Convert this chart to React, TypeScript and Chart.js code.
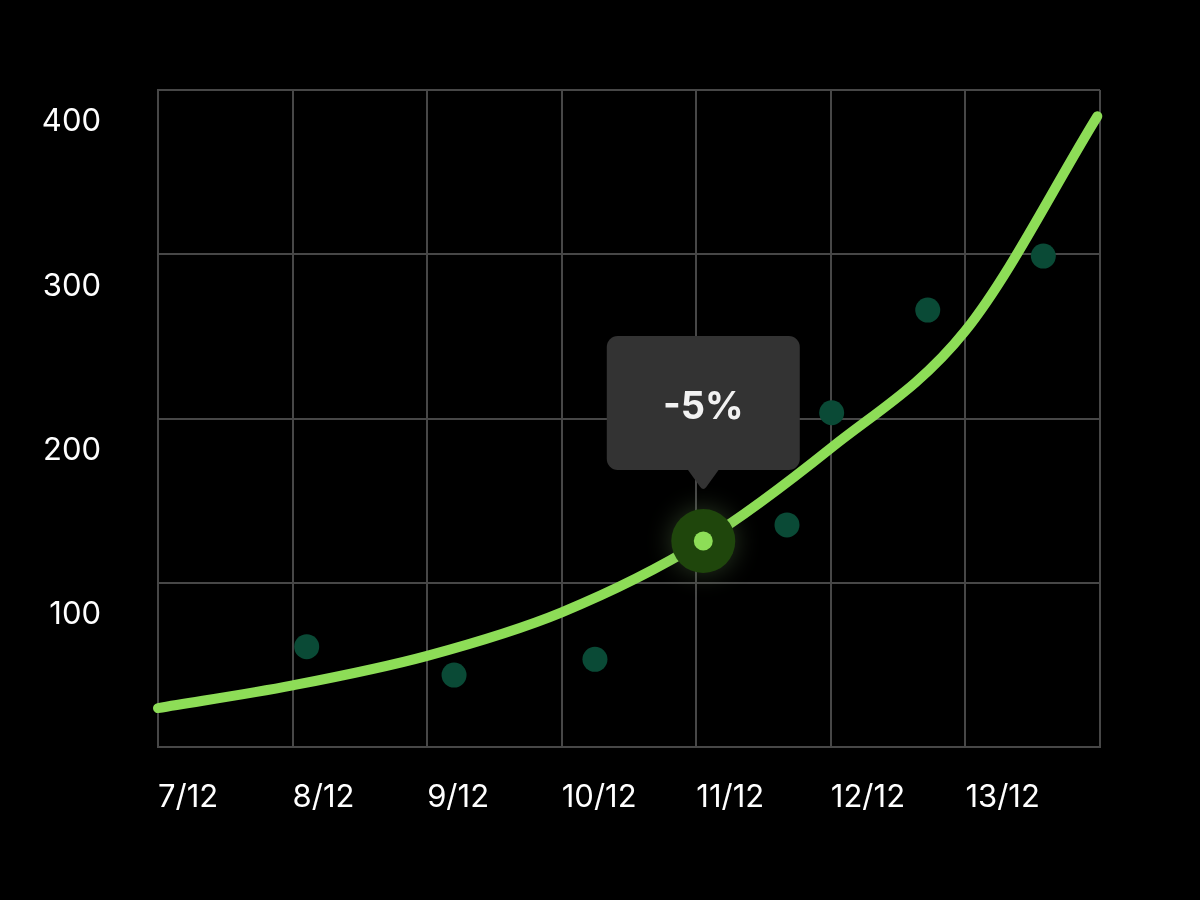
import { useEffect, useRef } from 'react';
import { Chart, registerables } from 'chart.js';

Chart.register(...registerables);

// Day labels along the bottom axis (one per vertical grid line, the last line has none)
const dateLabels = ['7/12', '8/12', '9/12', '10/12', '11/12', '12/12', '13/12'];

// Trend curve samples
const trendX = [0, 1, 2, 3, 4.052, 5, 6, 6.98];
const trendY = [23.7, 37.5, 55.5, 82, 125.4, 182, 253.5, 384];

// Individual observations
const obsX = [1.105, 2.2, 3.247, 4.674, 5.006, 5.72, 6.579];
const obsY = [61.1, 43.8, 53.4, 135.2, 203.5, 266, 298.9];

// Selected point on the curve and its callout
const selectedX = [4.052];
const selectedY = [125.4];
const calloutText = '-5%';

const GRID = '#474747';
const LINE_GREEN = '#8ddd57';
const DOT_GREEN = '#0a4a36';
const HALO_GREEN = '#1f460c';

const haloGlow = {
  id: 'haloGlow',
  beforeDatasetDraw(chart: any, args: any) {
    if (chart.data.datasets[args.index].label === 'halo') {
      const ctx = chart.ctx;
      ctx.save();
      ctx.shadowColor = 'rgba(120, 160, 100, 0.35)';
      ctx.shadowBlur = 26;
    }
  },
  afterDatasetDraw(chart: any, args: any) {
    if (chart.data.datasets[args.index].label === 'halo') {
      chart.ctx.restore();
    }
  },
};

const callout = {
  id: 'callout',
  afterDraw(chart: any) {
    const idx = chart.data.datasets.findIndex((d: any) => d.label === 'selected');
    const el = chart.getDatasetMeta(idx).data[0];
    if (!el) return;
    const { x, y } = el;
    const ctx = chart.ctx;
    const w = 193;
    const h = 134;
    const bottom = y - 71;
    const top = bottom - h;
    ctx.save();
    ctx.fillStyle = '#333333';
    ctx.beginPath();
    ctx.roundRect(x - w / 2, top, w, h, 11);
    ctx.fill();
    // caret pointing down at the selected point
    ctx.beginPath();
    ctx.moveTo(x - 16, bottom - 1);
    ctx.lineTo(x - 3, bottom + 17);
    ctx.quadraticCurveTo(x, bottom + 21, x + 3, bottom + 17);
    ctx.lineTo(x + 16, bottom - 1);
    ctx.closePath();
    ctx.fill();
    ctx.fillStyle = '#f2f2f2';
    ctx.font = 'bold 38px Inter, "Noto Sans", sans-serif';
    ctx.textAlign = 'center';
    ctx.textBaseline = 'middle';
    ctx.fillText(calloutText, x, top + h / 2 + 5);
    ctx.restore();
  },
};

const background = {
  id: 'background',
  beforeDraw(chart: any) {
    const ctx = chart.ctx;
    ctx.save();
    ctx.fillStyle = '#000000';
    ctx.fillRect(0, 0, chart.width, chart.height);
    ctx.restore();
  },
};

export default function App() {
  const canvasRef = useRef<HTMLCanvasElement | null>(null);

  useEffect(() => {
    document.body.style.margin = '0';
    document.body.style.background = '#000';
    const canvas = canvasRef.current;
    if (!canvas) return;

    const tickFont = { family: 'Inter, "Noto Sans", sans-serif', size: 31, weight: 'normal' as const };

    const chart = new Chart(canvas, {
      type: 'scatter',
      data: {
        datasets: [
          {
            label: 'selected',
            data: selectedX.map((x, i) => ({ x, y: selectedY[i] })),
            pointRadius: 9.5,
            pointHoverRadius: 9.5,
            pointBackgroundColor: LINE_GREEN,
            pointBorderWidth: 0,
            order: 0,
          },
          {
            label: 'halo',
            data: selectedX.map((x, i) => ({ x, y: selectedY[i] })),
            pointRadius: 32,
            pointHoverRadius: 32,
            pointBackgroundColor: HALO_GREEN,
            pointBorderWidth: 0,
            order: 1,
          },
          {
            label: 'trend',
            type: 'line',
            data: trendX.map((x, i) => ({ x, y: trendY[i] })),
            borderColor: LINE_GREEN,
            borderWidth: 10,
            borderCapStyle: 'round',
            borderJoinStyle: 'round',
            cubicInterpolationMode: 'monotone',
            pointRadius: 0,
            showLine: true,
            fill: false,
            clip: false,
            order: 2,
          } as any,
          {
            label: 'observations',
            data: obsX.map((x, i) => ({ x, y: obsY[i] })),
            pointRadius: 12.5,
            pointHoverRadius: 12.5,
            pointBackgroundColor: DOT_GREEN,
            pointBorderWidth: 0,
            order: 3,
          },
        ],
      },
      options: {
        responsive: false,
        animation: false,
        devicePixelRatio: 1,
        events: [],
        layout: { padding: { top: 90, right: 100, left: 0, bottom: 0 } },
        plugins: {
          legend: { display: false },
          tooltip: { enabled: false },
        },
        scales: {
          x: {
            type: 'linear',
            min: 0,
            max: 7,
            afterFit: (s: any) => {
              s.height = 153;
            },
            grid: { color: GRID, lineWidth: 2, drawTicks: false },
            border: { color: GRID, width: 2 },
            ticks: {
              stepSize: 1,
              autoSkip: false,
              maxRotation: 0,
              align: 'start',
              padding: 32,
              color: '#ffffff',
              font: tickFont,
              callback: (v: any) => dateLabels[Number(v)] ?? '',
            },
          },
          y: {
            type: 'linear',
            min: 0,
            max: 400,
            afterFit: (s: any) => {
              s.width = 158;
            },
            grid: { color: GRID, lineWidth: 2, drawTicks: false },
            border: { color: GRID, width: 2 },
            ticks: {
              stepSize: 100,
              padding: 57,
              labelOffset: 32,
              color: '#ffffff',
              font: tickFont,
              callback: (v: any) => (Number(v) === 0 ? '' : String(v)),
            },
          },
        },
      },
      plugins: [background, haloGlow, callout],
    });

    return () => chart.destroy();
  }, []);

  return (
    <div style={{ position: 'absolute', left: 0, top: 0, width: 1200, height: 900, background: '#000' }}>
      <canvas ref={canvasRef} width={1200} height={900} />
    </div>
  );
}
